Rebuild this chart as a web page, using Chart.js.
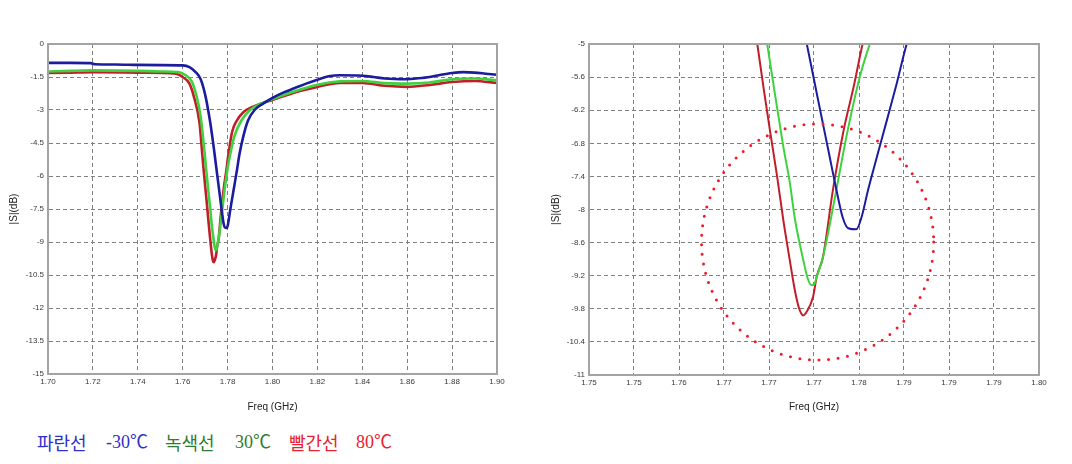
<!DOCTYPE html>
<html>
<head>
<meta charset="utf-8">
<script src="https://cdn.jsdelivr.net/npm/chart.js@4.4.1/dist/chart.umd.min.js"></script>
<style>
  html, body { margin: 0; padding: 0; background: #fff; }
  body { width: 1072px; height: 464px; position: relative; overflow: hidden; }
  .box { position: absolute; top: 0; height: 420px; }
  .leg { position: absolute; top: 431px; font-size: 18px; line-height: 22px; white-space: nowrap; }
  .ko { font-family: "Noto Sans CJK KR", sans-serif; }
  .num { font-family: "Liberation Serif", "Noto Sans CJK KR", serif; }
</style>
</head>
<body>
<div class="box" style="left:0;width:530px"><canvas id="chartWide"></canvas></div>
<div class="box" style="left:530px;width:542px"><canvas id="chartZoom"></canvas></div>

<span class="leg ko"  style="left:37px;color:#3030c8">파란선</span>
<span class="leg num" style="left:106px;color:#3030c8">-30℃</span>
<span class="leg ko"  style="left:165px;color:#2f7d2f">녹색선</span>
<span class="leg num" style="left:235px;color:#2f7d2f">30℃</span>
<span class="leg ko"  style="left:289px;color:#e8202e">빨간선</span>
<span class="leg num" style="left:356px;color:#e8202e">80℃</span>

<script>
// ── DATA ─────────────────────────────────────────────────────────
// -30 °C (blue)
const blueFreq = [1.700, 1.710, 1.719, 1.721, 1.730, 1.740, 1.750, 1.760, 1.763, 1.766, 1.768, 1.770, 1.772, 1.7733,
  1.7742, 1.7754, 1.7766, 1.7775, 1.7782, 1.7788, 1.7797, 1.7803, 1.7810, 1.7820, 1.7831, 1.7842, 1.7853,
  1.787, 1.789, 1.792, 1.796, 1.800, 1.805, 1.810, 1.815, 1.820, 1.825, 1.830, 1.840, 1.845, 1.850, 1.860,
  1.865, 1.870, 1.875, 1.880, 1.885, 1.890, 1.895, 1.900];
const blueDb = [-0.86, -0.86, -0.87, -0.92, -0.93, -0.95, -0.96, -0.97, -1.05, -1.3, -1.6, -2.3, -3.4, -4.3,
  -5.0, -5.97, -6.93, -7.65, -8.15, -8.34, -8.36, -8.13, -7.65, -7.04, -6.38, -5.71, -5.0,
  -4.2, -3.5, -3.0, -2.7, -2.45, -2.2, -2.0, -1.8, -1.62, -1.47, -1.42, -1.44, -1.5, -1.57, -1.6,
  -1.56, -1.5, -1.4, -1.32, -1.28, -1.3, -1.35, -1.4];

// 30 °C (green)
const greenFreq = [1.700, 1.710, 1.720, 1.740, 1.750, 1.758, 1.761, 1.764, 1.766, 1.768, 1.7698, 1.7707, 1.7716,
  1.7723, 1.7729, 1.7738, 1.7743, 1.7747, 1.7750, 1.7753, 1.7760, 1.7772, 1.7786, 1.7801, 1.7812,
  1.783, 1.786, 1.790, 1.795, 1.800, 1.810, 1.820, 1.830, 1.840, 1.850, 1.860, 1.870, 1.880, 1.890, 1.900];
const greenDb = [-1.25, -1.22, -1.2, -1.22, -1.25, -1.28, -1.4, -1.7, -2.3, -3.3, -5.0, -5.95, -6.87,
  -7.5, -8.19, -8.91, -9.25, -9.37, -9.36, -9.22, -8.86, -7.89, -6.68, -5.59, -5.0,
  -4.2, -3.5, -3.0, -2.7, -2.5, -2.15, -1.85, -1.7, -1.68, -1.78, -1.8, -1.75, -1.6, -1.57, -1.65];

// 80 °C (red)
const redFreq = [1.700, 1.710, 1.720, 1.740, 1.750, 1.757, 1.760, 1.763, 1.765, 1.7675, 1.7687, 1.7694, 1.7701,
  1.7709, 1.7716, 1.7723, 1.7728, 1.7733, 1.7738, 1.7742, 1.7749, 1.7753, 1.7760, 1.7771, 1.7783, 1.7794, 1.7804,
  1.782, 1.784, 1.787, 1.791, 1.797, 1.800, 1.810, 1.820, 1.830, 1.840, 1.850, 1.860, 1.870, 1.880, 1.890, 1.900];
const redDb = [-1.32, -1.3, -1.28, -1.3, -1.32, -1.35, -1.5, -1.8, -2.4, -3.6, -5.0, -5.8, -6.56,
  -7.4, -8.2, -8.91, -9.4, -9.77, -9.92, -9.85, -9.58, -9.22, -8.86, -7.65, -6.56, -5.78, -5.0,
  -4.0, -3.5, -3.1, -2.86, -2.64, -2.55, -2.2, -1.95, -1.77, -1.77, -1.9, -1.95, -1.86, -1.73, -1.68, -1.77];

// axes
const wideXTicks = [1.70, 1.72, 1.74, 1.76, 1.78, 1.80, 1.82, 1.84, 1.86, 1.88, 1.90];
const wideYTicks = [0, -1.5, -3, -4.5, -6, -7.5, -9, -10.5, -12, -13.5, -15];
const zoomXTicks = [1.750, 1.755, 1.760, 1.765, 1.770, 1.775, 1.780, 1.785, 1.790, 1.795, 1.800];
const zoomXLabels = ["1.75", "1.75", "1.76", "1.77", "1.77", "1.77", "1.78", "1.79", "1.79", "1.79", "1.80"];
const zoomYTicks = [-5, -5.6, -6.2, -6.8, -7.4, -8, -8.6, -9.2, -9.8, -10.4, -11];

// dotted circle marking the dips on the zoomed plot (centre / radii in data units)
const markCentre = { x: 1.7754, y: -8.59 };
const markRadius = { x: 0.0129, y: 2.14 };

// ── STYLE ────────────────────────────────────────────────────────
const BLUE = "#1c1c9e", GREEN = "#3fd23f", RED = "#c01f2a";
const tickFont = { family: "'Liberation Sans', Arial, sans-serif", size: 8 };
const titleFont = { family: "'Liberation Sans', Arial, sans-serif", size: 10 };

const pts = (xs, ys) => xs.map((x, i) => ({ x, y: ys[i] }));

// solid grey frame round the plot area
const frameBox = {
  id: "frameBox",
  afterDatasetsDraw(chart) {
    const { ctx, chartArea: a } = chart;
    ctx.save();
    ctx.strokeStyle = "#a3a3a3";
    ctx.lineWidth = 2;
    ctx.strokeRect(a.left, a.top, a.right - a.left, a.bottom - a.top);
    ctx.restore();
  },
};

const dottedMark = {
  id: "dottedMark",
  afterDatasetsDraw(chart) {
    const { ctx, scales: { x, y } } = chart;
    const cx = x.getPixelForValue(markCentre.x);
    const cy = y.getPixelForValue(markCentre.y);
    const rx = Math.abs(x.getPixelForValue(markCentre.x + markRadius.x) - cx);
    const ry = Math.abs(y.getPixelForValue(markCentre.y + markRadius.y) - cy);
    ctx.save();
    ctx.strokeStyle = "#ee1c28";
    ctx.lineWidth = 3;
    ctx.lineCap = "round";
    ctx.setLineDash([0, 9.6]);
    ctx.beginPath();
    ctx.ellipse(cx, cy, rx, ry, 0, 0, Math.PI * 2);
    ctx.stroke();
    ctx.restore();
  },
};

function lineSet(xs, ys, color, width) {
  return {
    data: pts(xs, ys),
    borderColor: color,
    borderWidth: width,
    pointRadius: 0,
    cubicInterpolationMode: "monotone",
    fill: false,
  };
}

function makeChart(id, o) {
  const gridOpts = () => ({ color: "#808080", lineWidth: 1, drawTicks: false });
  const borderOpts = () => ({ display: true, color: "#a3a3a3", width: 1, dash: [4, 3] });
  new Chart(document.getElementById(id), {
    type: "line",
    data: {
      datasets: [
        lineSet(blueFreq, blueDb, BLUE, o.lw),
        lineSet(greenFreq, greenDb, GREEN, o.lw),
        lineSet(redFreq, redDb, RED, o.lw),
      ],
    },
    options: {
      responsive: true,
      maintainAspectRatio: false,
      animation: false,
      layout: { padding: { left: o.padLeft, right: 33, top: 44, bottom: 0 } },
      plugins: { legend: { display: false }, tooltip: { enabled: false } },
      scales: {
        x: {
          type: "linear",
          min: o.xTicks[0],
          max: o.xTicks[o.xTicks.length - 1],
          afterBuildTicks: s => { s.ticks = o.xTicks.map(v => ({ value: v })); },
          afterFit: s => { s.height = o.xH; },
          grid: gridOpts(),
          border: borderOpts(),
          ticks: {
            font: tickFont, color: "#3a3a3a", padding: 3, maxRotation: 0, autoSkip: false,
            callback: o.xLabel,
          },
          title: { display: true, text: "Freq (GHz)", font: titleFont, color: "#222", padding: { top: 4, bottom: 7 } },
        },
        y: {
          type: "linear",
          min: o.yTicks[o.yTicks.length - 1],
          max: o.yTicks[0],
          afterBuildTicks: s => { s.ticks = o.yTicks.map(v => ({ value: v })); },
          afterFit: s => { s.width = o.yW; },
          grid: gridOpts(),
          border: borderOpts(),
          ticks: { font: tickFont, color: "#3a3a3a", padding: 4, autoSkip: false, callback: v => String(v) },
          title: { display: true, text: "|S|(dB)", font: titleFont, color: "#222", padding: { top: 8, bottom: 0 } },
        },
      },
    },
    plugins: o.plugins,
  });
}

// ── WIDE VIEW 1.70–1.90 GHz ─────────────────────────────────────
makeChart("chartWide", {
  lw: 2.6, padLeft: 0, yW: 48, xH: 46,
  xTicks: wideXTicks, yTicks: wideYTicks,
  xLabel: v => v.toFixed(2),
  plugins: [frameBox],
});

// ── ZOOMED VIEW 1.75–1.80 GHz ───────────────────────────────────
makeChart("chartZoom", {
  lw: 2, padLeft: 12, yW: 47, xH: 45,
  xTicks: zoomXTicks, yTicks: zoomYTicks,
  xLabel: (v, i) => zoomXLabels[i],
  plugins: [frameBox, dottedMark],
});
</script>
</body>
</html>
